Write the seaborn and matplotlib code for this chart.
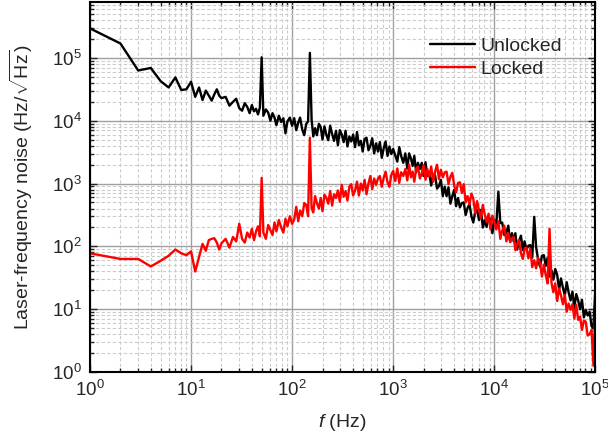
import numpy as np
import pandas as pd
import seaborn as sns
import matplotlib
matplotlib.use('Agg')
import matplotlib.pyplot as plt
from matplotlib.ticker import LogLocator, NullFormatter

# frequency axis (Hz)
freq_hz = [
    1, 2, 3, 4, 5, 6, 7, 8, 9, 10, 11, 12, 13, 14, 15, 16, 17, 18, 19, 20,
    22, 24, 26, 28, 30, 32, 34, 36, 38, 40, 42, 44, 46, 48, 50, 52, 55, 58, 61, 64,
    67, 70, 74, 78, 82, 86, 90, 95, 100,
    105, 110, 115, 120, 126, 132, 138, 144, 150, 156, 162, 169, 176, 184, 192, 200,
    209, 218, 228, 238, 249, 260, 272, 284, 297, 310, 324, 338, 353, 369, 385, 402,
    420, 439, 458, 479, 500, 522, 545, 570, 595, 621, 649, 678, 708, 739, 772, 806,
    842, 880, 919, 960, 1000,
    1050, 1100, 1150, 1200, 1260, 1320, 1380, 1440, 1500, 1560, 1620, 1690, 1760,
    1840, 1920, 2000, 2090, 2180, 2280, 2380, 2490, 2600, 2720, 2840, 2970, 3100,
    3240, 3380, 3530, 3690, 3850, 4020, 4200, 4390, 4580, 4790, 5000, 5220, 5450,
    5700, 5950, 6210, 6490, 6780, 7080, 7390, 7720, 8060, 8420, 8800, 9190, 9600, 10000,
    10500, 11000, 11500, 12000, 12600, 13200, 13800, 14400, 15000, 15600, 16200,
    16900, 17600, 18400, 19200, 20000, 20900, 21800, 22800, 23800, 24900, 26000,
    27200, 28400, 29700, 31000, 32400, 33800, 35300, 36900, 38500, 40200, 42000,
    43900, 45800, 47900, 50000, 52200, 54500, 57000, 59500, 62100, 64900, 67800,
    70800, 73900, 77200, 80600, 84200, 88000, 91900, 96000, 100000,
]

# log10 of noise amplitude (Hz/sqrt(Hz))
unlocked_log10 = [
    5.47, 5.23, 4.80, 4.84, 4.63, 4.53, 4.69, 4.49, 4.50, 4.62, 4.38, 4.53, 4.33, 4.48, 4.40, 4.32, 4.42, 4.50, 4.40, 4.36,
    4.38, 4.24, 4.30, 4.35, 4.20, 4.16, 4.28, 4.22, 4.12, 4.25, 4.15, 4.19, 4.10, 4.21, 5.01, 4.08, 4.18, 4.13, 4.00, 4.12,
    4.05, 3.93, 4.08, 3.98, 4.04, 3.80, 3.99, 4.05, 3.92,
    4.04, 3.85, 3.97, 4.05, 3.86, 3.77, 3.95, 3.99, 5.08, 4.02, 3.75, 3.88, 3.77, 3.95, 3.90, 3.70,
    3.91, 3.78, 3.69, 3.92, 3.79, 3.68, 3.84, 3.61, 3.85, 3.78, 3.66, 3.84, 3.59, 3.75, 3.67, 3.78,
    3.58, 3.82, 3.61, 3.68, 3.51, 3.71, 3.73, 3.53, 3.60, 3.72, 3.48, 3.64, 3.51, 3.66, 3.41, 3.56,
    3.67, 3.44, 3.59, 3.47, 3.55,
    3.45, 3.35, 3.58, 3.44, 3.33, 3.48, 3.24, 3.48, 3.40, 3.28, 3.44, 3.18, 3.33,
    3.23, 3.33, 3.12, 3.34, 3.12, 3.16, 2.97, 3.14, 3.13, 2.92, 2.96, 3.06, 2.80,
    2.95, 2.80, 2.94, 2.68, 2.80, 2.90, 2.64, 2.77, 2.62, 2.69, 2.70, 2.50, 2.61,
    2.67, 2.48, 2.38, 2.55, 2.58, 2.42, 2.58, 2.30, 2.42, 2.31, 2.48, 2.42, 2.21, 2.42,
    2.35, 2.87, 2.37, 2.38, 2.18, 2.22, 2.33, 2.07, 2.21, 2.08, 2.21,
    1.95, 2.08, 2.17, 1.94, 2.08, 1.95, 2.01, 2.02, 1.82, 2.47, 1.99,
    1.79, 1.68, 1.85, 1.86, 1.69, 1.82, 1.52, 1.62, 1.47, 1.64, 1.55,
    1.31, 1.49, 1.34, 1.22, 1.43, 1.27, 1.14, 1.28, 1.02, 1.24, 1.14,
    1.00, 1.15, 0.87, 0.99, 0.90, 0.96, 0.73, 0.70, 1.30,
]

locked_log10 = [
    1.89, 1.80, 1.80, 1.68, 1.77, 1.85, 1.95, 1.89, 1.86, 1.92, 1.60, 1.83, 2.04, 1.93, 2.10, 2.12, 2.13, 2.06, 1.95, 2.05,
    2.12, 1.98, 2.15, 2.08, 2.36, 2.12, 2.06, 2.22, 2.14, 2.28, 2.10, 2.24, 2.32, 2.16, 3.09, 2.22, 2.12, 2.34, 2.26, 2.18,
    2.38, 2.24, 2.42, 2.30, 2.22, 2.44, 2.32, 2.48, 2.36,
    2.43, 2.63, 2.40, 2.57, 2.48, 2.69, 2.66, 2.48, 3.73, 2.61, 2.54, 2.80, 2.69, 2.60, 2.77, 2.56,
    2.82, 2.78, 2.68, 2.88, 2.65, 2.83, 2.77, 2.89, 2.71, 2.98, 2.79, 2.88, 2.73, 2.95, 2.99, 2.81,
    2.89, 3.03, 2.81, 3.00, 2.89, 3.06, 2.83, 3.00, 3.12, 2.91, 3.08, 2.98, 3.08, 3.12, 2.95, 3.09,
    3.19, 3.02, 2.95, 3.14, 3.20,
    3.04, 3.24, 3.01, 3.18, 3.12, 3.23, 3.05, 3.30, 3.10, 3.19, 3.03, 3.24, 3.27,
    3.08, 3.16, 3.29, 3.06, 3.23, 3.11, 3.27, 3.03, 3.19, 3.30, 3.07, 3.22, 3.10,
    3.18, 3.19, 2.99, 3.11, 3.17, 2.97, 2.86, 3.01, 3.02, 2.85, 2.99, 2.70, 2.80,
    2.67, 2.84, 2.76, 2.53, 2.72, 2.57, 2.45, 2.66, 2.51, 2.39, 2.52, 2.27, 2.49, 2.40,
    2.27, 2.40, 2.12, 2.25, 2.33, 2.08, 2.21, 2.07, 2.13, 2.15, 1.94,
    2.04, 2.10, 1.89, 1.80, 1.96, 1.98, 1.81, 1.96, 1.67, 1.78, 1.65,
    1.82, 1.74, 1.52, 1.71, 1.54, 1.41, 2.28, 1.42, 1.27, 1.41, 1.13,
    1.33, 1.22, 1.08, 1.23, 0.96, 1.09, 0.99, 1.08, 0.85, 1.07, 0.83,
    0.88, 0.67, 0.82, 0.80, 0.58, 0.60, 0.67, 0.10, 1.00,
]

series_names = ['Unlocked', 'Locked']
series_colors = {'Unlocked': 'black', 'Locked': 'red'}

df = pd.concat([
    pd.DataFrame({'f': freq_hz, 'noise': np.power(10.0, unlocked_log10), 'state': 'Unlocked'}),
    pd.DataFrame({'f': freq_hz, 'noise': np.power(10.0, locked_log10), 'state': 'Locked'}),
], ignore_index=True)

sns.set_style('ticks')
plt.rcParams['font.family'] = ['Liberation Sans', 'DejaVu Sans']
plt.rcParams['mathtext.fontset'] = 'custom'
plt.rcParams['mathtext.rm'] = 'Liberation Sans'
plt.rcParams['mathtext.it'] = 'Liberation Sans:italic'

fig = plt.figure(figsize=(6.08, 4.45), dpi=100)
ax = fig.add_axes([0.148, 0.164, 0.831, 0.831])

sns.lineplot(data=df, x='f', y='noise', hue='state', hue_order=series_names,
             palette=series_colors, estimator=None, sort=False, lw=1.7, ax=ax)

ax.set_xscale('log')
ax.set_yscale('log')
ax.set_xlim(1, 1e5)
ax.set_ylim(1, 7.7e5)

ax.xaxis.set_major_locator(LogLocator(base=10, numticks=20))
ax.yaxis.set_major_locator(LogLocator(base=10, numticks=20))
ax.xaxis.set_minor_locator(LogLocator(base=10, subs=np.arange(2, 10), numticks=100))
ax.yaxis.set_minor_locator(LogLocator(base=10, subs=np.arange(2, 10), numticks=100))
ax.xaxis.set_minor_formatter(NullFormatter())
ax.yaxis.set_minor_formatter(NullFormatter())

ax.set_axisbelow(True)
ax.grid(which='major', color='#a0a0a0', lw=1.0, ls='-')
ax.grid(which='minor', color='#cccccc', lw=0.8, ls=(0, (3, 2)))

ax.tick_params(which='both', direction='in', top=True, right=True, width=1.0, labelsize=13.5)
ax.tick_params(which='major', length=5, pad=6)
ax.tick_params(which='minor', length=3)
for s in ax.spines.values():
    s.set_linewidth(1.5)
    s.set_color('black')

ax.set_xlabel(r'$f$ (Hz)', fontsize=14, labelpad=8)
ax.set_ylabel(r'Laser-frequency noise (Hz/$\sqrt{\mathrm{Hz}}$)', fontsize=14, labelpad=12)

ax.legend(loc='upper left', bbox_to_anchor=(0.673, 0.906), frameon=False, fontsize=14,
          borderaxespad=0, borderpad=0, handlelength=2.3, handletextpad=0.3,
          labelspacing=0.3, title=None)

fig.savefig('out.png', dpi=100)
